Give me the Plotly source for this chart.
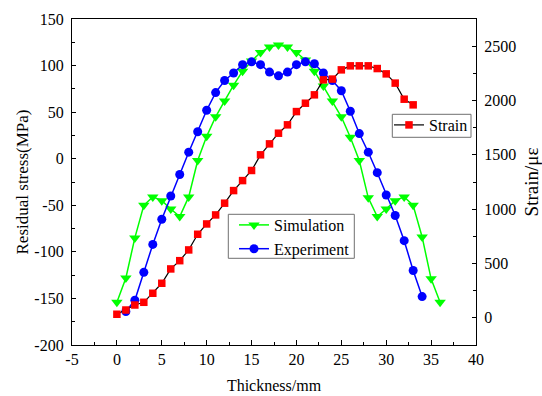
import plotly.graph_objects as go

# ---- data ----
thickness_sim = list(range(0, 37))
simulation = [-154, -128, -85, -50, -41, -45, -54, -62, -41, -2, 24, 45, 62, 79, 94, 105,
              114, 120, 122, 120, 114, 106, 94, 78, 62, 45, 23, -2, -42, -62, -54, -45,
              -41, -50, -84, -129, -154]

thickness_exp = list(range(1, 35))
experiment = [-164, -152, -122, -92, -65, -40, -17, 7, 29, 52, 71, 84, 92, 101, 104, 101,
              93, 89, 93, 101, 104, 102, 92, 84, 73, 51, 27, 7, -15, -39, -61, -88, -120, -148]

thickness_strain = list(range(0, 34))
strain = [33, 72, 118, 143, 226, 318, 450, 526, 625, 769, 864, 947, 1055, 1171, 1263, 1356,
          1500, 1601, 1699, 1776, 1898, 1975, 2052, 2190, 2197, 2282, 2319, 2319, 2319, 2294,
          2245, 2160, 2012, 1960]

x_ticks = [-5, 0, 5, 10, 15, 20, 25, 30, 35, 40]
x_ticklabels = ["-5", "0", "5", "10", "15", "20", "25", "30", "35", "40"]
y_ticks = [-200, -150, -100, -50, 0, 50, 100, 150]
y_ticklabels = ["-200", "-150", "-100", "-50", "0", "50", "100", "150"]
y2_ticks = [0, 500, 1000, 1500, 2000, 2500]
y2_ticklabels = ["0", "500", "1000", "1500", "2000", "2500"]

FONT = "Liberation Serif"

# plot area in pixels (fixed margins)
W, H = 542, 396
ML, MR, MT, MB = 72, 66, 19, 51
PW, PH = W - ML - MR, H - MT - MB


def px_to_paper(x0, y0, x1, y1):
    return dict(x0=(x0 - ML) / PW, x1=(x1 - ML) / PW,
                y0=(H - MB - y0) / PH, y1=(H - MB - y1) / PH)


fig = go.Figure()
fig.add_trace(go.Scatter(
    x=thickness_sim, y=simulation, mode="lines+markers", name="Simulation",
    line=dict(color="#00FF00", width=1.5),
    marker=dict(symbol="triangle-down", size=10, color="#00FF00"),
    legend="legend"))
fig.add_trace(go.Scatter(
    x=thickness_exp, y=experiment, mode="lines+markers", name="Experiment",
    line=dict(color="#0000FF", width=1.5),
    marker=dict(symbol="circle", size=9, color="#0000FF"),
    legend="legend"))
fig.add_trace(go.Scatter(
    x=thickness_strain, y=strain, mode="lines+markers", name="Strain", yaxis="y2",
    line=dict(color="#000000", width=1.2),
    marker=dict(symbol="square", size=7.5, color="#FF0000"),
    legend="legend2"))

axis_common = dict(showline=True, linecolor="black", linewidth=1.3, showgrid=False,
                   zeroline=False, ticks="inside", tickcolor="black", tickwidth=1,
                   automargin=False,
                   tickfont=dict(family=FONT, size=16, color="black"))

box_style = dict(type="rect", xref="paper", yref="paper",
                 line=dict(color="#707070", width=1), fillcolor="white", layer="above")

fig.update_layout(
    width=W, height=H,
    margin=dict(l=ML, r=MR, t=MT, b=MB),
    paper_bgcolor="white", plot_bgcolor="white",
    font=dict(family=FONT, size=16, color="black"),
    xaxis=dict(**axis_common, range=[-5, 40], tickvals=x_ticks, ticktext=x_ticklabels,
               ticklen=5, mirror=True, ticklabelstandoff=0,
               minor=dict(dtick=2.5, tick0=0, ticks="inside", ticklen=3, tickcolor="black"),
               title=dict(text="Thickness/mm", font=dict(family=FONT, size=16), standoff=12)),
    yaxis=dict(**axis_common, range=[-200, 150], tickvals=y_ticks, ticktext=y_ticklabels,
               ticklen=4, ticklabelstandoff=4,
               minor=dict(dtick=25, tick0=0, ticks="inside", ticklen=3, tickcolor="black"),
               title=dict(text="Residual stress(MPa)", font=dict(family=FONT, size=17), standoff=1)),
    yaxis2=dict(**axis_common, overlaying="y", side="right", range=[-250, 2750],
                tickvals=y2_ticks, ticktext=y2_ticklabels, ticklen=4, ticklabelstandoff=4,
                minor=dict(dtick=250, tick0=0, ticks="inside", ticklen=3, tickcolor="black"),
                title=dict(text="Strain/με", font=dict(family=FONT, size=19), standoff=9)),
    legend=dict(x=(234 - ML) / PW, y=(H - MB - 208) / PH, xanchor="left", yanchor="top",
                bgcolor="rgba(0,0,0,0)", borderwidth=0,
                font=dict(family=FONT, size=16)),
    legend2=dict(x=(389 - ML) / PW, y=(H - MB - 108) / PH, xanchor="left", yanchor="top",
                 bgcolor="rgba(0,0,0,0)", borderwidth=0,
                 font=dict(family=FONT, size=16)),
    shapes=[
        dict(**box_style, **px_to_paper(228.3, 214.3, 354.3, 258.3)),
        dict(**box_style, **px_to_paper(392.3, 114.3, 471, 137.3)),
    ],
)

fig.write_html("out.html")
